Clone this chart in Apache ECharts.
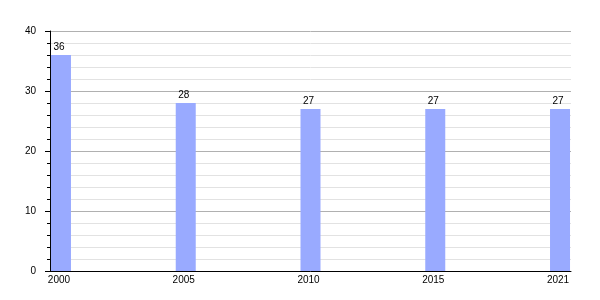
<!DOCTYPE html>
<html>
<head>
<meta charset="utf-8">
<script src="https://cdn.jsdelivr.net/npm/echarts@6/dist/echarts.min.js"></script>
<style>html,body{margin:0;padding:0;background:#fff}#c{width:600px;height:300px}</style>
</head>
<body>
<div id="c"></div>
<script>
const years = ['2000', '2005', '2010', '2015', '2021'];
const values = [36, 28, 27, 27, 27];
const yTicks = [0, 10, 20, 30, 40];

const chart = echarts.init(document.getElementById('c'), null, {renderer: 'canvas'});
const font = 'Liberation Sans, Arial, sans-serif';
chart.setOption({
  animation: false,
  textStyle: {fontFamily: font},
  grid: {left: 50, right: 29, top: 31, bottom: 29, containLabel: false},
  xAxis: {
    type: 'value',
    min: -0.088,
    max: 4.088,
    axisLine: {show: true, onZero: false, lineStyle: {color: '#000', width: 1}},
    axisTick: {show: false},
    splitLine: {show: false},
    axisLabel: {
      customValues: [0, 1, 2, 3, 4],
      formatter: v => years[Math.round(v)],
      color: '#000', fontSize: 10, fontFamily: font, margin: 4,
      padding: [0, 4, 0, 0]
    }
  },
  yAxis: {
    type: 'value',
    min: yTicks[0],
    max: yTicks[yTicks.length - 1],
    interval: 10,
    axisLine: {show: true, onZero: false, lineStyle: {color: '#000', width: 1}},
    axisTick: {show: true, length: 5, lineStyle: {color: '#000'}},
    minorTick: {show: true, splitNumber: 5, length: 3, lineStyle: {color: '#000'}},
    splitLine: {show: true, lineStyle: {color: '#b0b0b0', width: 1}},
    minorSplitLine: {show: true, lineStyle: {color: '#e2e2e2', width: 1}},
    axisLabel: {color: '#000', fontSize: 10, fontFamily: font, margin: 14}
  },
  series: [{
    type: 'bar',
    data: values.map((v, i) => [i, v]),
    barWidth: 20,
    itemStyle: {color: '#99aaff'},
    label: {
      show: true, position: 'top', distance: 3,
      color: '#000', fontSize: 10, fontFamily: font,
      padding: [0, 4, 0, 0]
    }
  }]
});
</script>
</body>
</html>
